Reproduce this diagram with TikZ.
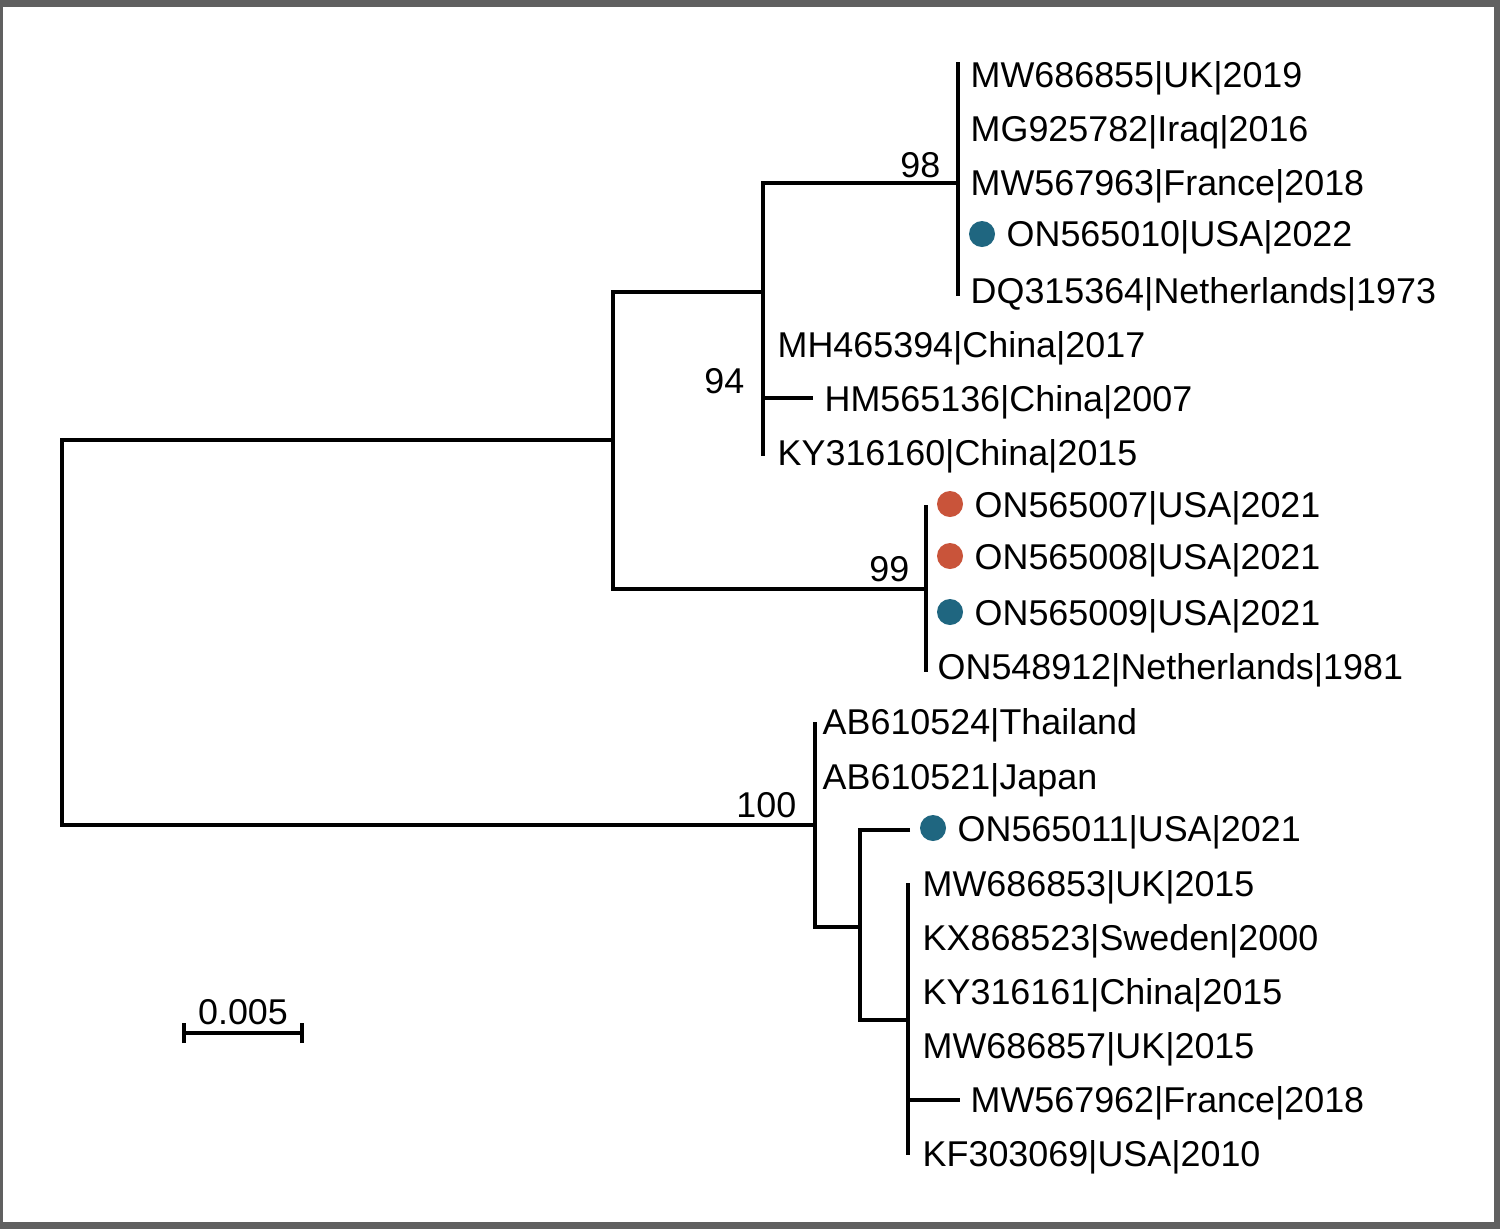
\documentclass[tikz,border=0pt]{standalone}
\usepackage{fontspec}
\setmainfont{Liberation Sans}
\definecolor{usaorange}{RGB}{201,84,58}
\definecolor{usateal}{RGB}{31,102,128}
\begin{document}
\begin{tikzpicture}[x=0.01cm,y=-0.01cm,
  branch/.style={line width=0.9pt},
  taxon/.style={anchor=base west,inner sep=0pt,font=\fontsize{10.2}{12}\selectfont},
  boot/.style={anchor=base east,inner sep=0pt,font=\fontsize{10.2}{12}\selectfont},
  casedot/.style={circle,fill=#1,inner sep=0pt,minimum size=0.26cm}]
  % frame
  \fill[gray!75!black] (0,0) rectangle (1500,1229);
  \fill[white] (3,7) rectangle (1494,1222);
  \useasboundingbox (0,0) rectangle (1500,1229);

  % internal nodes
  \coordinate (root) at (62,632);
  \coordinate (n1) at (613,440);
  \coordinate (n2) at (763,292);
  \coordinate (n98) at (958,183);
  \coordinate (n94) at (763,398);
  \coordinate (n99) at (926,589);
  \coordinate (n100) at (815,825);
  \coordinate (n3) at (860,927);
  \coordinate (n4) at (908,1020);
  \coordinate (n5) at (908,1100);

  % branch ends
  \coordinate (t98a) at (958,62);
  \coordinate (t98b) at (958,296);
  \coordinate (t94a) at (763,344);
  \coordinate (t94b) at (763,456);
  \coordinate (tHM) at (813,398);
  \coordinate (t99a) at (926,505);
  \coordinate (t99b) at (926,672);
  \coordinate (t100a) at (815,722);
  \coordinate (tON11) at (910,830);
  \coordinate (t4a) at (908,883);
  \coordinate (t4b) at (908,1155);
  \coordinate (tFR) at (960,1100);

  \draw[branch] (n1) -| (root) |- (n100);
  \draw[branch] (n2) -| (n1) |- (n99);
  \draw[branch] (n98) -| (n2) |- (t94b);
  \draw[branch] (t94a) -- (t94b);
  \draw[branch] (n94) -- (tHM);
  \draw[branch] (t98a) -- (t98b);
  \draw[branch] (t99a) -- (t99b);
  \draw[branch] (t100a) -- (n100) |- (n3);
  \draw[branch] (tON11) -| (n3) |- (n4);
  \draw[branch] (t4a) -- (t4b);
  \draw[branch] (n5) -- (tFR);

  % bootstrap values
  \node[boot] (b98) at (941,177) {98};
  \node[boot] (b94) at (745,393) {94};
  \node[boot] (b99) at (910,581) {99};
  \node[boot] (b100) at (797,817) {100};

  % taxa
  \node[taxon] (MW686855) at (970,87) {MW686855|UK|2019};
  \node[taxon] (MG925782) at (970,141) {MG925782|Iraq|2016};
  \node[taxon] (MW567963) at (970,195) {MW567963|France|2018};
  \node[casedot=usateal] (d10) at (982,234) {};
  \node[taxon] (ON565010) at (1006,246) {ON565010|USA|2022};
  \node[taxon] (DQ315364) at (970,303) {DQ315364|Netherlands|1973};
  \node[taxon] (MH465394) at (777,357) {MH465394|China|2017};
  \node[taxon] (HM565136) at (824,411) {HM565136|China|2007};
  \node[taxon] (KY316160) at (777,465) {KY316160|China|2015};
  \node[casedot=usaorange] (d07) at (950,504) {};
  \node[taxon] (ON565007) at (974,517) {ON565007|USA|2021};
  \node[casedot=usaorange] (d08) at (950,556) {};
  \node[taxon] (ON565008) at (974,569) {ON565008|USA|2021};
  \node[casedot=usateal] (d09) at (950,612) {};
  \node[taxon] (ON565009) at (974,625) {ON565009|USA|2021};
  \node[taxon] (ON548912) at (937,679) {ON548912|Netherlands|1981};
  \node[taxon] (AB610524) at (822,734) {AB610524|Thailand};
  \node[taxon] (AB610521) at (822,789) {AB610521|Japan};
  \node[casedot=usateal] (d11) at (933,828) {};
  \node[taxon] (ON565011) at (957,841) {ON565011|USA|2021};
  \node[taxon] (MW686853) at (922,896) {MW686853|UK|2015};
  \node[taxon] (KX868523) at (922,950) {KX868523|Sweden|2000};
  \node[taxon] (KY316161) at (922,1004) {KY316161|China|2015};
  \node[taxon] (MW686857) at (922,1058) {MW686857|UK|2015};
  \node[taxon] (MW567962) at (970,1112) {MW567962|France|2018};
  \node[taxon] (KF303069) at (922,1166) {KF303069|USA|2010};

  % scale bar
  \coordinate (sbL) at (184,1033);
  \coordinate (sbR) at (302,1033);
  \draw[branch] (sbL) -- (sbR);
  \draw[branch] ([yshift=-0.1cm]sbL) -- ([yshift=0.1cm]sbL);
  \draw[branch] ([yshift=-0.1cm]sbR) -- ([yshift=0.1cm]sbR);
  \node[anchor=base,inner sep=0pt,font=\fontsize{10.2}{12}\selectfont] (sblabel) at (243,1024) {0.005};
\end{tikzpicture}
\end{document}
